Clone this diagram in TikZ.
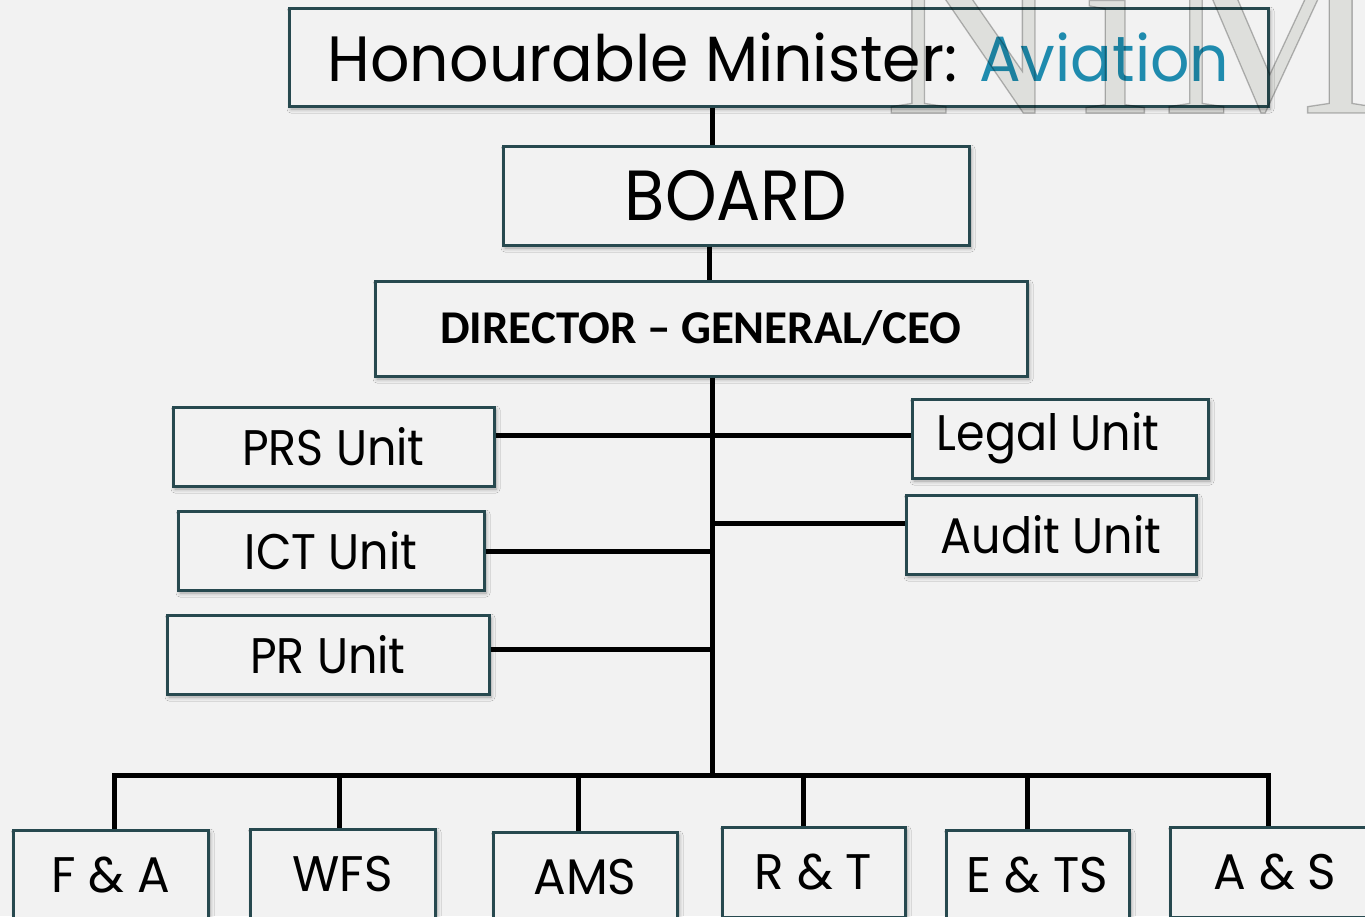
\documentclass[tikz,border=0pt]{standalone}
\usepackage{fontspec}
\setmainfont{Poppins}
\newfontfamily\cgmin[FakeStretch=0.965]{Poppins}
\newfontfamily\cgboard[FakeStretch=0.925]{Poppins}
\newfontfamily\cgunit[FakeStretch=0.92]{Poppins}
\newfontfamily\cgdept[FakeStretch=0.97]{Poppins}
\newfontfamily\calibri{Carlito}
\newfontfamily\wmfont{Liberation Serif}
\usetikzlibrary{shadows.blur}
\definecolor{bg}{HTML}{F2F2F2}
\definecolor{bord}{HTML}{27494F}
\definecolor{avcol}{HTML}{1F8BAE}
\tikzset{
  box/.style={draw=bord, line width=3pt, fill=bg, inner sep=0pt,
    blur shadow={shadow xshift=2pt, shadow yshift=-3pt, shadow opacity=35, shadow blur steps=6, shadow blur radius=4pt}},
  link/.style={line width=5pt, black},
  unit/.style={box, minimum height=79pt, font=\cgunit\fontsize{50}{50}\selectfont},
  dept/.style={box, minimum height=90pt, font=\cgdept\fontsize{50}{50}\selectfont},
}
\newcommand\wmstart{\special{pdf:literal direct 0.917 0.92 0.91 rg 0.74 0.74 0.74 RG 1.3 w 2 Tr}}
\newcommand\wmend{\special{pdf:literal direct 0 Tr 0 g 0 G}}
\begin{document}
\begin{tikzpicture}[x=1pt,y=-1pt]
\useasboundingbox (0,0) rectangle (1365,916);
\fill[bg] (0,0) rectangle (1365,916);
\clip (0,0) rectangle (1365,916);

\node[box, minimum width=979pt, minimum height=98pt, font=\cgmin\fontsize{64}{64}\selectfont] (min) at (778.5,57) {Honourable Minister: \textcolor{avcol}{Aviation}};
\node[box, minimum width=466pt, minimum height=99pt, font=\cgboard\fontsize{71}{71}\selectfont] (board) at (736,195.5) {BOARD};
\node[box, minimum width=652pt, minimum height=95pt, font=\calibri\bfseries\fontsize{47}{47}\selectfont] (dg) at (701,328.5) {DIRECTOR – GENERAL/CEO};

\node[unit, minimum width=321pt] (prs) at (333.5,446.5) {PRS Unit};
\node[unit, minimum width=306pt] (ict) at (331,550.5) {ICT Unit};
\node[unit, minimum width=322pt] (pr) at (328,654.5) {PR Unit};
\node[unit, minimum width=296pt] (legal) at (1060,438.5) {\kern-24pt Legal Unit};
\node[unit, minimum width=290pt] (audit) at (1051,534.5) {Audit Unit};

\node[dept, minimum width=195pt] (fa) at (110.5,875) {F \& A};
\node[dept, minimum width=185pt] (wfs) at (342.5,874) {WFS};
\node[dept, minimum width=184pt] (ams) at (585,877) {AMS};
\node[dept, minimum width=183pt] (rt) at (813.5,872) {R \& T};
\node[dept, minimum width=183pt] (ets) at (1037.5,875) {E \& TS};
\node[dept, minimum width=210pt] (as) at (1275,872) {A \& S};

\coordinate (t1) at (712,0);
\coordinate (t2) at (709,0);
\coordinate (y1) at (0,435);
\coordinate (y2) at (0,551);
\coordinate (y3) at (0,649);
\coordinate (y4) at (0,523);
\coordinate (bus) at (0,775);
\coordinate (bl) at (114,775);
\coordinate (br) at (1268,775);

\draw[link] (min.south -| t1) -- (board.north -| t1);
\draw[link] (board.south -| t2) -- (dg.north -| t2);
\draw[link] (dg.south -| t1) -- (bus -| t1);
\draw[link] (prs.east |- y1) -- (legal.west |- y1);
\draw[link] (ict.east |- y2) -- (t1 |- y2);
\draw[link] (pr.east |- y3) -- (t1 |- y3);
\draw[link] (t1 |- y4) -- (audit.west |- y4);
\draw[link, line cap=rect] (bl) -- (br);
\draw[link] (bl) -- (fa.north -| bl);
\draw[link] (bus -| wfs.north) ++(-3.5,0) coordinate (w1) -- (wfs.north -| w1);
\draw[link] (bus -| ams.north) ++(-7,0) coordinate (a1) -- (ams.north -| a1);
\draw[link] (bus -| rt.north) ++(-10.5,0) coordinate (r1) -- (rt.north -| r1);
\draw[link] (bus -| ets.north) ++(-10.5,0) coordinate (e1) -- (ets.north -| e1);
\draw[link] (br) -- (as.north -| br);

\begin{scope}[blend mode=multiply]
\node[anchor=base west, inner sep=0pt, font=\wmfont\fontsize{245}{245}\selectfont] (wmk) at (884,113) {\wmstart N\kern20pt i\kern13pt M\wmend};
\end{scope}
\end{tikzpicture}
\end{document}
